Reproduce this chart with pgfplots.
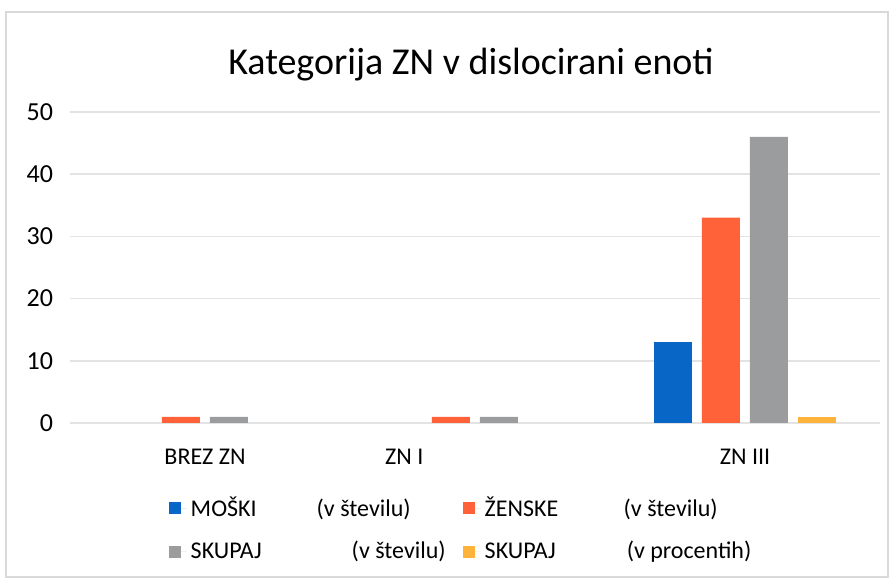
\documentclass[border=0pt]{standalone}
\usepackage{fontspec}
\setmainfont{Carlito}
\usepackage{pgfplots}
\pgfplotsset{compat=1.18}

\definecolor{cblue}{HTML}{0866C6}
\definecolor{corange}{HTML}{FF6238}
\definecolor{cgray}{HTML}{9A9C9E}
\definecolor{cyellow}{HTML}{FFB33A}

\begin{document}
\begin{tikzpicture}
  % frame of the chart area
  \path (0pt,0pt) rectangle (445.5pt,289.5pt);
  \draw[gray!30, line width=0.6pt] (3pt,1pt) rectangle (444pt,283.5pt);

  \node[font=\fontsize{19}{23}\selectfont] at (235.5pt,257pt) {Kategorija ZN v dislocirani enoti};

  \begin{axis}[
      at={(35pt,78pt)}, anchor=south west,
      scale only axis,
      width=405pt, height=155.5pt,
      ybar=5pt, bar width=19pt,
      xmin=-0.5, xmax=2.5,
      ymin=0, ymax=50,
      ytick={0,10,20,30,40,50},
      xtick={0,0.738,2},
      xticklabels={BREZ ZN, ZN I, ZN III},
      axis line style={draw=none},
      major tick length=0pt,
      ymajorgrids,
      grid style={gray!22, line width=0.8pt},
      tick label style={font=\fontsize{12}{14}\selectfont},
      yticklabel style={font=\fontsize{13}{15}\selectfont, xshift=-5pt},
      xticklabel style={yshift=-9.5pt},
      /pgf/number format/assume math mode=true,
      legend columns=2,
      legend cell align=left,
      legend style={draw=none, at={(axis description cs:0.114,-0.21)}, anchor=north west,
        font=\fontsize{12}{14}\selectfont, row sep=7pt,
        /tikz/every even column/.append style={column sep=4pt}},
      legend image code/.code={\path (0pt,0pt) -- (9pt,0pt);
        \fill[#1] (0pt,-3pt) rectangle (6pt,3pt);},
    ]
    % zero values (MOŠKI and SKUPAJ % in BREZ ZN and ZN I) are left out: Excel draws nothing there
    \addplot[fill=cblue, draw=none] coordinates {(2,13)};
    \addlegendentry{\makebox[130pt][l]{\makebox[63pt][l]{MOŠKI}(v številu)}}
    \addplot[fill=corange, draw=none] coordinates {(0,1) (1,1) (2,33)};
    \addlegendentry{\makebox[130pt][l]{\makebox[69.5pt][l]{ŽENSKE}(v številu)}}
    \addplot[fill=cgray, draw=none] coordinates {(0,1) (1,1) (2,46)};
    \addlegendentry{\makebox[130pt][l]{\makebox[80.5pt][l]{SKUPAJ}(v številu)}}
    \addplot[fill=cyellow, draw=none] coordinates {(2,1)};
    \addlegendentry{\makebox[130pt][l]{\makebox[71pt][l]{SKUPAJ}(v procentih)}}
  \end{axis}
\end{tikzpicture}
\end{document}
